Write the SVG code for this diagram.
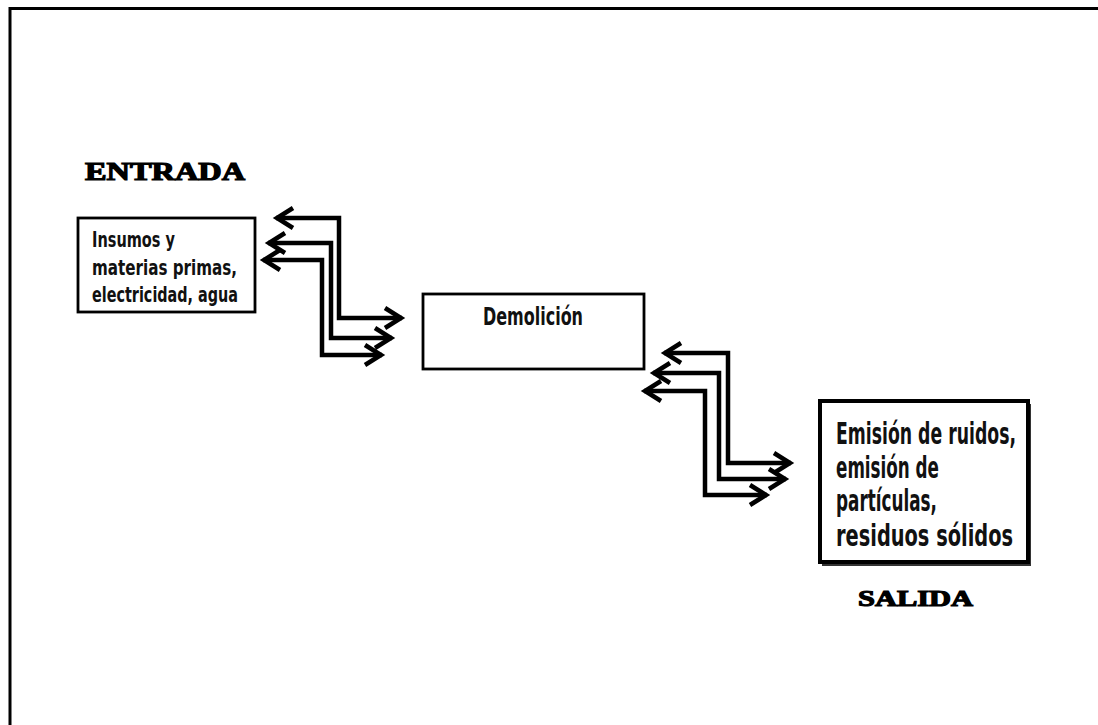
<svg xmlns="http://www.w3.org/2000/svg" width="1098" height="725" viewBox="0 0 1098 725">
<style>
  .box { fill: #ffffff; stroke: #000000; stroke-width: 2.8; }
  .cond { font-family: "Liberation Sans Narrow", "DejaVu Sans Condensed", "Liberation Sans", sans-serif; font-weight: bold; fill: #111111; }
  .head { font-family: "Liberation Serif", "DejaVu Serif", serif; font-weight: bold; fill: #000000; stroke: #000000; stroke-width: 1.2; }
  .conn { fill: none; stroke: #000000; stroke-width: 4.5; stroke-linejoin: miter; marker-start: url(#chev); marker-end: url(#chev); }
</style>
<defs>
  <marker id="chev" markerUnits="userSpaceOnUse" markerWidth="40" markerHeight="40" viewBox="-25 -20 40 40" refX="0" refY="0" orient="auto-start-reverse" overflow="visible">
    <path d="M-17,-10 L-1,0 L-17,10" fill="none" stroke="#000000" stroke-width="4.5" stroke-linejoin="miter"/>
  </marker>
</defs>
<rect x="0" y="0" width="1098" height="725" fill="#ffffff"/>
<rect id="frame" x="10" y="8.5" width="1100" height="730" fill="none" stroke="#000000" stroke-width="3"/>

<g id="label-entrada">
  <text class="head" x="85" y="180" font-size="25" textLength="160" lengthAdjust="spacingAndGlyphs">ENTRADA</text>
</g>

<g id="node-insumos">
  <rect class="box" x="78" y="218" width="177" height="94"/>
  <text class="cond" font-size="22">
    <tspan x="92" y="247" textLength="83" lengthAdjust="spacingAndGlyphs">Insumos y</tspan>
    <tspan x="92" y="275" textLength="145" lengthAdjust="spacingAndGlyphs">materias primas,</tspan>
    <tspan x="92" y="302" textLength="146" lengthAdjust="spacingAndGlyphs">electricidad, agua</tspan>
  </text>
</g>

<g id="node-demolicion">
  <rect class="box" x="423" y="294" width="221" height="75"/>
  <text class="cond" x="483" y="325" font-size="25" textLength="100" lengthAdjust="spacingAndGlyphs">Demolición</text>
</g>

<g id="node-emision">
  <rect x="822" y="404" width="209" height="162" fill="#333333"/>
  <rect x="820" y="401" width="208" height="161" fill="#ffffff" stroke="#000000" stroke-width="4"/>
  <text class="cond" font-size="30">
    <tspan x="836" y="444" textLength="180" lengthAdjust="spacingAndGlyphs">Emisión de ruidos,</tspan>
    <tspan x="836" y="478" textLength="103" lengthAdjust="spacingAndGlyphs">emisión de</tspan>
    <tspan x="836" y="511" textLength="101" lengthAdjust="spacingAndGlyphs">partículas,</tspan>
    <tspan x="836" y="546" textLength="177" lengthAdjust="spacingAndGlyphs">residuos sólidos</tspan>
  </text>
</g>

<g id="label-salida">
  <text class="head" x="858" y="606" font-size="23" textLength="115" lengthAdjust="spacingAndGlyphs">SALIDA</text>
</g>

<g id="connectors">
  <path class="conn" d="M276,218 H339 V318 H402"/>
  <path class="conn" d="M268,243 H331 V338 H392"/>
  <path class="conn" d="M263,260 H322 V355 H382"/>
  <path class="conn" d="M664,353 H728 V463 H791"/>
  <path class="conn" d="M653,373 H719 V479 H786"/>
  <path class="conn" d="M644,391 H705 V495 H767"/>
</g>
</svg>
